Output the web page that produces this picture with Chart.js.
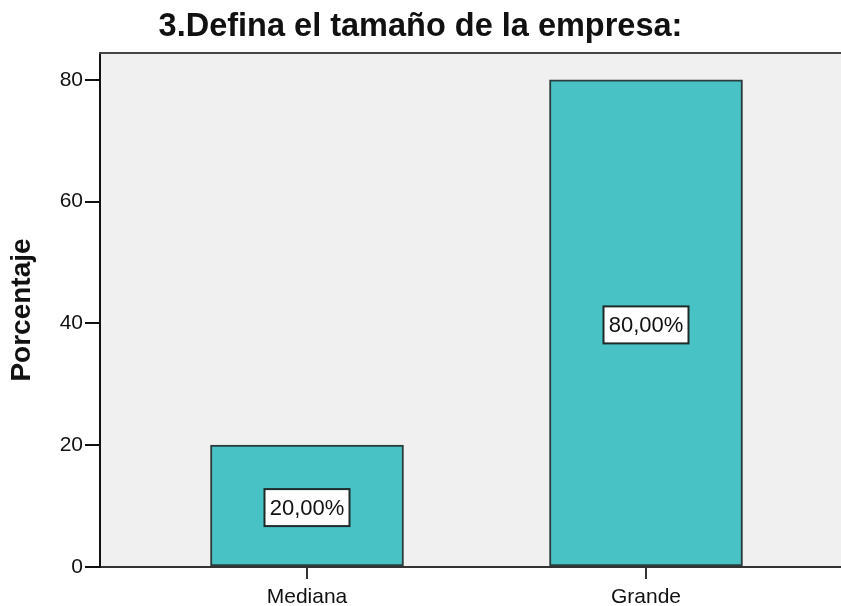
<!DOCTYPE html>
<html>
<head>
<meta charset="utf-8">
<script src="https://cdn.jsdelivr.net/npm/chart.js@4.4.0/dist/chart.umd.min.js"></script>
<style>
html,body{margin:0;padding:0;background:#fff;}
#wrap{width:841px;height:606px;}
</style>
</head>
<body>
<div id="wrap"><canvas id="c" width="841" height="606"></canvas></div>
<script>
const chartTitle = "3.Defina el tamaño de la empresa:";
const yTitle = "Porcentaje";
const categories = ["Mediana", "Grande"];
const percentValues = [20, 80];
const valueLabels = ["20,00%", "80,00%"];
const yTicks = [0, 20, 40, 60, 80];

const FONT = "'Liberation Sans', Arial, sans-serif";

const bgPlugin = {
  id: 'bg',
  beforeDraw(chart) {
    const {ctx, chartArea: a} = chart;
    ctx.save();
    ctx.fillStyle = '#ffffff';
    ctx.fillRect(0, 0, chart.width, chart.height);
    ctx.fillStyle = '#f0f0f0';
    ctx.fillRect(a.left, a.top, a.right - a.left, a.bottom - a.top);
    ctx.restore();
  },
  afterDraw(chart) {
    const {ctx, chartArea: a} = chart;
    ctx.save();
    ctx.strokeStyle = '#444';
    ctx.lineWidth = 2;
    ctx.beginPath();
    ctx.moveTo(a.left - 1, a.top);
    ctx.lineTo(a.right, a.top);
    ctx.stroke();
    ctx.restore();
  }
};

const labelPlugin = {
  id: 'vlabels',
  afterDatasetsDraw(chart) {
    const {ctx} = chart;
    const meta = chart.getDatasetMeta(0);
    ctx.save();
    ctx.font = "22px " + FONT;
    ctx.textAlign = 'center';
    ctx.textBaseline = 'middle';
    meta.data.forEach((bar, i) => {
      const cx = bar.x;
      const cy = (bar.y + bar.base) / 2 + 2;
      const w = 85, h = 37;
      ctx.fillStyle = '#ffffff';
      ctx.fillRect(cx - w / 2, cy - h / 2, w, h);
      ctx.strokeStyle = '#1e2a2a';
      ctx.lineWidth = 2;
      ctx.strokeRect(cx - w / 2, cy - h / 2, w, h);
      ctx.fillStyle = '#111';
      ctx.fillText(valueLabels[i], cx, cy + 1);
    });
    ctx.restore();
  }
};

new Chart(document.getElementById('c'), {
  type: 'bar',
  data: {
    datasets: [{
      data: categories.map((c, i) => ({x: i, y: percentValues[i]})),
      backgroundColor: '#48c2c5',
      borderColor: '#2a3c3c',
      borderWidth: 2,
      borderSkipped: false,
      barThickness: 193
    }]
  },
  options: {
    responsive: false,
    animation: false,
    layout: {padding: 0},
    plugins: {
      legend: {display: false},
      tooltip: {enabled: false},
      title: {
        display: true,
        text: chartTitle,
        color: '#111',
        font: {family: FONT, size: 32.5, weight: 'bold'},
        padding: {top: 8, bottom: 6}
      }
    },
    scales: {
      x: {
        type: 'linear',
        offset: false,
        min: -0.6106,
        max: 1.5752,
        afterBuildTicks(scale) { scale.ticks = categories.map((c, i) => ({value: i})); },
        afterFit(scale) { scale.height = 39; },
        ticks: {
          autoSkip: false,
          maxRotation: 0,
          padding: 6,
          color: '#111',
          font: {family: FONT, size: 21},
          callback: (v) => categories[v]
        },
        grid: {offset: false, drawOnChartArea: false, drawTicks: true, tickLength: 12, tickColor: '#333', lineWidth: 2},
        border: {display: true, color: '#333', width: 2}
      },
      y: {
        min: 0,
        max: 84.4,
        afterBuildTicks(scale) { scale.ticks = yTicks.map(v => ({value: v})); },
        afterFit(scale) { scale.width = 100; },
        ticks: {
          padding: 2,
          color: '#111',
          font: {family: FONT, size: 21}
        },
        title: {
          display: true,
          text: yTitle,
          color: '#111',
          font: {family: FONT, size: 28, weight: 'bold'},
          padding: {top: 5, bottom: 0}
        },
        grid: {drawOnChartArea: false, drawTicks: true, tickLength: 15, tickColor: '#111', lineWidth: 2},
        border: {display: true, color: '#111', width: 2}
      }
    }
  },
  plugins: [bgPlugin, labelPlugin]
});
</script>
</body>
</html>
